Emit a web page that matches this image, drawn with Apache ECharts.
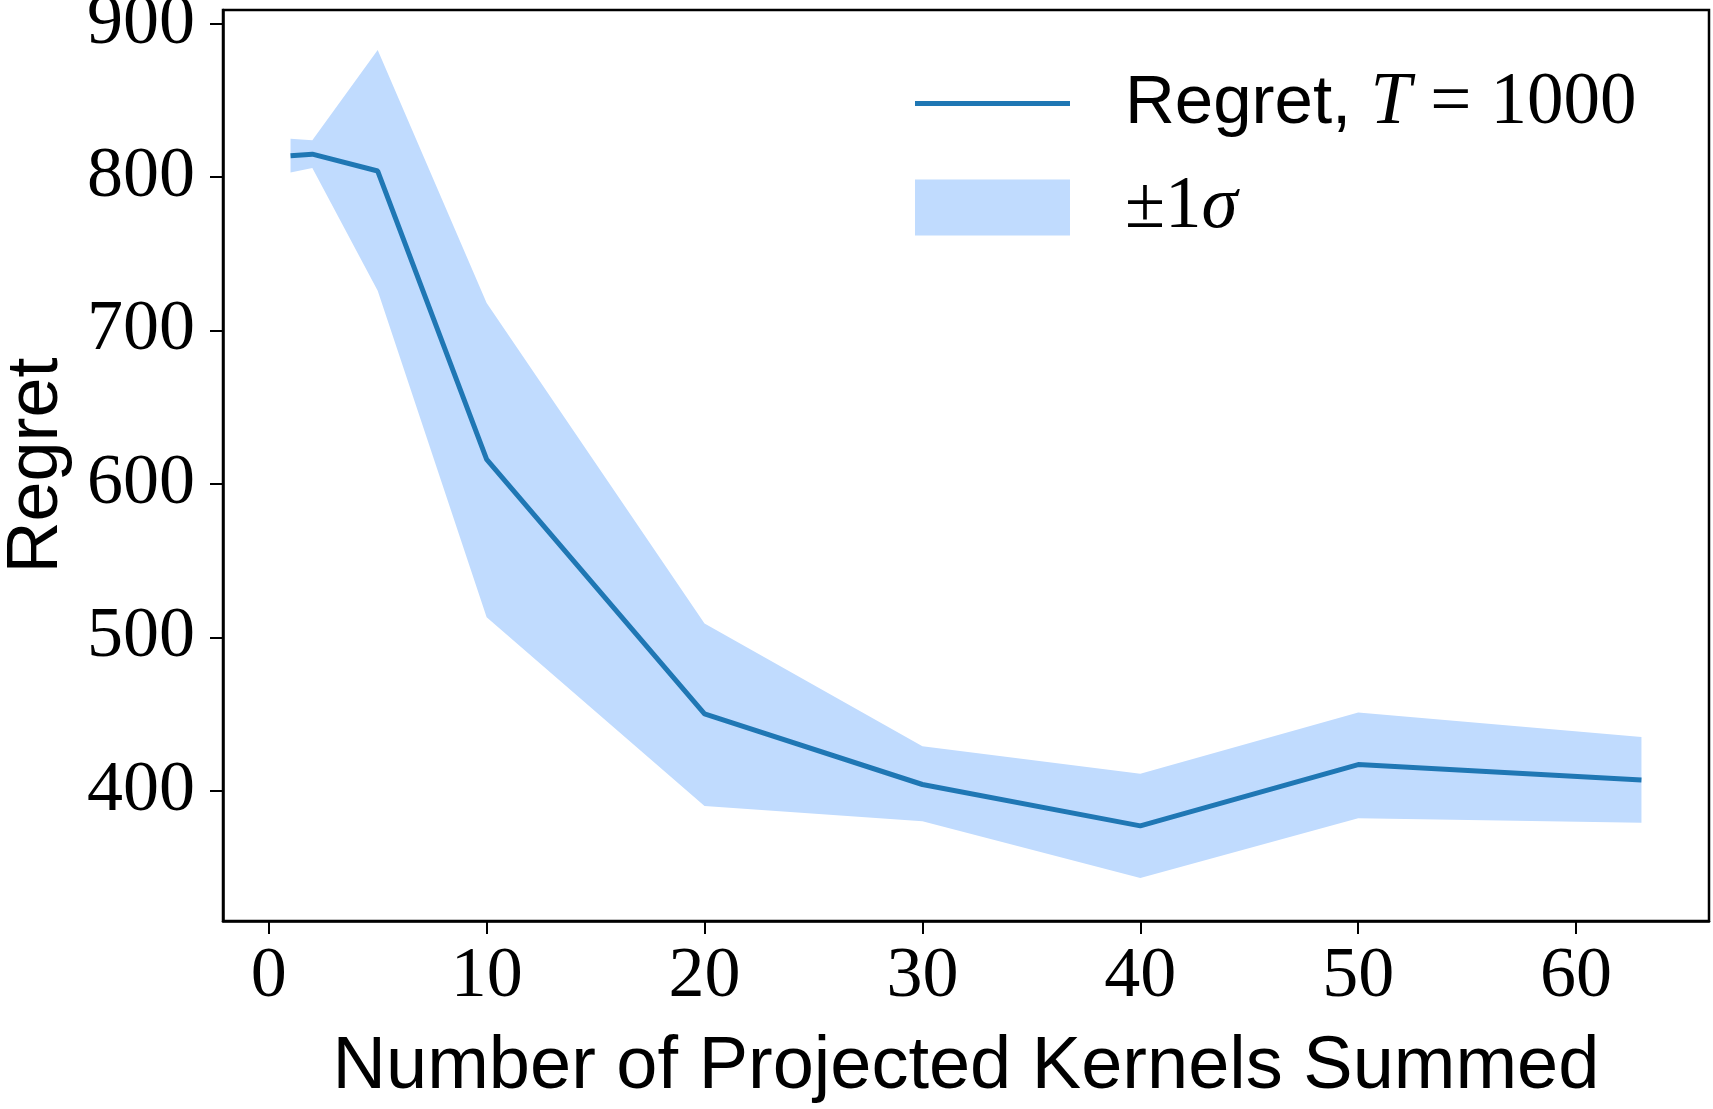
<!DOCTYPE html>
<html>
<head>
<meta charset="utf-8">
<script src="https://cdn.jsdelivr.net/npm/echarts@6/dist/echarts.min.js"></script>
<style>
  html, body { margin: 0; padding: 0; background: #fff; }
  #chart { width: 1713px; height: 1109px; }
</style>
</head>
<body>
<div id="chart"></div>
<script>
// number of projected kernels summed
const kernels = [1, 2, 5, 10, 20, 30, 40, 50, 63];
// mean regret at T = 1000
const regret = [814, 815, 804, 616, 450, 404, 377, 417, 407];
// +/- 1 sigma band edges
const upper = [825, 824, 883, 718, 509, 429, 411, 451, 435];
const lower = [803, 806, 726, 513, 390, 380, 343, 382, 379];
const xTicks = [0, 10, 20, 30, 40, 50, 60];
const yTicks = [400, 500, 600, 700, 800, 900];

const serif = 'Liberation Serif';
const sans = 'Liberation Sans';
const blue = '#1f77b4';
const bandColor = '#c0dbfe';

const chart = echarts.init(document.getElementById('chart'));

const legendText = {
  fontFamily: sans, fontSize: 69, color: '#000', padding: [0, 0, 0, 50],
  rich: {
    m: { fontFamily: serif, fontStyle: 'italic', fontSize: 73, color: '#000' },
    s: { fontFamily: serif, fontSize: 73, color: '#000' }
  }
};

// fill between lower and upper, drawn once as a polygon
function renderBand(params, api) {
  if (params.dataIndex !== 0) return;
  const top = kernels.map((x, i) => api.coord([x, upper[i]]));
  const bottom = kernels.map((x, i) => api.coord([x, lower[i]])).reverse();
  return {
    type: 'polygon',
    shape: { points: top.concat(bottom) },
    style: { fill: bandColor }
  };
}

chart.setOption({
  animation: false,
  grid: {
    left: 223, right: 4, top: 10, bottom: 188,
    outerBoundsMode: 'none',
    show: true, borderColor: '#000', borderWidth: 2.5
  },
  legend: [
    {
      data: [{ name: 'Regret', icon: 'rect', itemStyle: { color: blue } }],
      left: 910, top: 62, itemWidth: 155, itemHeight: 5,
      textStyle: legendText,
      formatter: () => 'Regret, {m|T} {s|=} {s|1000}',
      selectedMode: false
    },
    {
      data: [{ name: '±1σ', icon: 'rect', itemStyle: { color: bandColor } }],
      left: 910, top: 166, itemWidth: 155, itemHeight: 56,
      textStyle: legendText,
      formatter: () => '{s|±1}{m|σ}',
      selectedMode: false
    }
  ],
  xAxis: {
    type: 'value', min: -2.1, max: 66.1,
    name: 'Number of Projected Kernels Summed',
    nameLocation: 'middle', nameGap: 110,
    nameTextStyle: { fontFamily: sans, fontSize: 74, color: '#000' },
    splitLine: { show: false },
    axisLine: { onZero: false, lineStyle: { color: '#000', width: 2.5 } },
    axisTick: { customValues: xTicks, length: 13, lineStyle: { color: '#000', width: 2 } },
    axisLabel: { customValues: xTicks, margin: 20, fontFamily: serif, fontSize: 72, color: '#000' }
  },
  yAxis: {
    type: 'value', min: 315, max: 909,
    name: 'Regret',
    nameLocation: 'middle', nameGap: 150, nameRotate: 90,
    nameTextStyle: { fontFamily: sans, fontSize: 72, color: '#000' },
    splitLine: { show: false },
    axisLine: { show: true, onZero: false, lineStyle: { color: '#000', width: 2.5 } },
    axisTick: { show: true, customValues: yTicks, length: 13, lineStyle: { color: '#000', width: 2 } },
    axisLabel: { customValues: yTicks, margin: 28, fontFamily: serif, fontSize: 72, color: '#000' }
  },
  series: [
    {
      name: '±1σ', type: 'custom', silent: true,
      itemStyle: { color: bandColor },
      renderItem: renderBand,
      encode: { x: 0, y: [1, 2] },
      data: kernels.map((x, i) => [x, lower[i], upper[i]])
    },
    {
      name: 'Regret', type: 'line', symbol: 'none', z: 5,
      lineStyle: { color: blue, width: 5 },
      itemStyle: { color: blue },
      data: kernels.map((x, i) => [x, regret[i]])
    }
  ]
});
</script>
</body>
</html>
